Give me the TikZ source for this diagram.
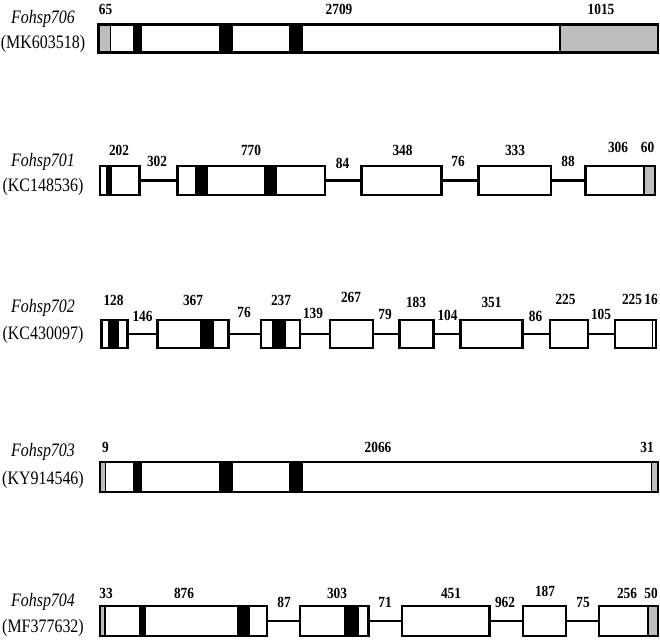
\documentclass[tikz,border=0pt]{standalone}
\usepackage{fontspec}
\usepackage{graphicx}
\setmainfont{Liberation Serif}
\definecolor{exgray}{RGB}{190,190,190}
\tikzset{
 exon/.style={draw=black, line width=2.5pt, inner sep=0pt, outer sep=0pt},
 intron/.style={line width=2.1pt},
 num/.style={font=\fontsize{15.5}{15.5}\selectfont\bfseries, anchor=base, inner sep=0pt},
 gname/.style={font=\fontsize{19}{19}\selectfont\itshape, anchor=base, inner sep=0pt},
 acc/.style={font=\fontsize{19}{19}\selectfont, anchor=base, inner sep=0pt},
 sepline/.style={line width=1.4pt},
}
% name, x1, x2, y1, y2
\newcommand\exon[5]{%
 \pgfmathsetmacro\exw{#3-#2}\pgfmathsetmacro\exh{#5-#4}%
 \pgfmathsetmacro\exx{(#2+#3)/2}\pgfmathsetmacro\exy{(#4+#5)/2}%
 \node[exon, minimum width=\exw pt, minimum height=\exh pt] (#1) at (\exx,\exy) {};}
\newcommand\lab[4]{\node[num] (#1) at (#2,#3) {\scalebox{0.86}[1]{#4}};}
\newcommand\gnm[5]{%
 \node[gname] (#1a) at (43,#2) {\scalebox{0.84}[1]{#4}};
 \node[acc] (#1b) at (43,#3) {\scalebox{0.84}[1]{#5}};}
\newcommand\blk[4]{\fill[black] (#1,#3) rectangle (#2,#4);}
\newcommand\gry[4]{\fill[exgray] (#1,#3) rectangle (#2,#4);}
\begin{document}
\begin{tikzpicture}[x=1pt,y=-1pt]
\useasboundingbox (0,0) rectangle (660,639);
% ================= Row 1: Fohsp706 =================
\fill[white] (98.5,24.5) rectangle (658,52.5);
\gry{98.5}{110.5}{24.5}{52.5}
\gry{560}{658}{24.5}{52.5}
\blk{132.5}{141.5}{23.5}{53.5}
\blk{219}{233}{23.5}{53.5}
\blk{289}{303}{23.5}{53.5}
\exon{r1e1}{98.5}{658}{24.5}{52.5}
\draw[sepline] (110.5,24.5) -- (110.5,52.5);
\draw[sepline] (560,24.5) -- (560,52.5);
\gnm{n1}{24}{49}{Fohsp706}{(MK603518)}
\lab{l1a}{105.5}{15}{65}
\lab{l1b}{339}{15}{2709}
\lab{l1c}{601}{15}{1015}
% ================= Row 2: Fohsp701 =================
\fill[white] (100,166) rectangle (139.5,195);
\fill[white] (177.5,166) rectangle (325,195);
\fill[white] (361.5,166) rectangle (441.5,195);
\fill[white] (478.5,166) rectangle (551,195);
\fill[white] (585.5,166) rectangle (655,195);
\blk{105.5}{111.5}{166}{195}
\blk{194.5}{207.5}{166}{195}
\blk{263.5}{276.5}{166}{195}
\gry{644}{655}{166}{195}
\exon{r2e1}{100}{139.5}{166}{195}
\exon{r2e2}{177.5}{325}{166}{195}
\exon{r2e3}{361.5}{441.5}{166}{195}
\exon{r2e4}{478.5}{551}{166}{195}
\exon{r2e5}{585.5}{655}{166}{195}
\draw[sepline] (644,166) -- (644,195);
\draw[intron] (r2e1.east) -- (r2e2.west);
\draw[intron] (r2e2.east) -- (r2e3.west);
\draw[intron] (r2e3.east) -- (r2e4.west);
\draw[intron] (r2e4.east) -- (r2e5.west);
\gnm{n2}{166}{191}{Fohsp701}{(KC148536)}
\lab{l2a}{119}{155}{202}
\lab{l2b}{157}{167}{302}
\lab{l2c}{251}{156}{770}
\lab{l2d}{342.5}{168}{84}
\lab{l2e}{402.5}{155}{348}
\lab{l2f}{458}{167}{76}
\lab{l2g}{515}{155}{333}
\lab{l2h}{568}{167}{88}
\lab{l2i}{618}{153}{306}
\lab{l2j}{647.5}{153}{60}
% ================= Row 3: Fohsp702 =================
\fill[white] (101.5,320) rectangle (127.5,348);
\fill[white] (157.5,320) rectangle (228.5,348);
\fill[white] (261,320) rectangle (300,348);
\fill[white] (330,320) rectangle (373,348);
\fill[white] (399.5,320) rectangle (433.5,348);
\fill[white] (460.5,320) rectangle (522.5,348);
\fill[white] (550,320) rectangle (588,348);
\fill[white] (615,320) rectangle (656,348);
\blk{107.5}{118.5}{320}{348}
\blk{199.5}{214}{319}{349}
\blk{271.5}{286}{319}{349}
\exon{r3e1}{101.5}{127.5}{320}{348}
\exon{r3e2}{157.5}{228.5}{320}{348}
\exon{r3e3}{261}{300}{320}{348}
\exon{r3e4}{330}{373}{320}{348}
\exon{r3e5}{399.5}{433.5}{320}{348}
\exon{r3e6}{460.5}{522.5}{320}{348}
\exon{r3e7}{550}{588}{320}{348}
\exon{r3e8}{615}{656}{320}{348}
\draw[sepline] (652.5,320) -- (652.5,348);
\draw[intron] (r3e1.east) -- (r3e2.west);
\draw[intron] (r3e2.east) -- (r3e3.west);
\draw[intron] (r3e3.east) -- (r3e4.west);
\draw[intron] (r3e4.east) -- (r3e5.west);
\draw[intron] (r3e5.east) -- (r3e6.west);
\draw[intron] (r3e6.east) -- (r3e7.west);
\draw[intron] (r3e7.east) -- (r3e8.west);
\gnm{n3}{312}{339}{Fohsp702}{(KC430097)}
\lab{l3a}{113.5}{305}{128}
\lab{l3b}{142.5}{321}{146}
\lab{l3c}{193}{305}{367}
\lab{l3d}{244}{317}{76}
\lab{l3e}{281}{305}{237}
\lab{l3f}{313}{318}{139}
\lab{l3g}{351}{302}{267}
\lab{l3h}{385}{319}{79}
\lab{l3i}{416}{307}{183}
\lab{l3j}{447.5}{320}{104}
\lab{l3k}{491.5}{307}{351}
\lab{l3l}{535.5}{321}{86}
\lab{l3m}{565.5}{304}{225}
\lab{l3n}{601}{319}{105}
\lab{l3o}{632}{304}{225}
\lab{l3p}{651}{304}{16}
% ================= Row 4: Fohsp703 =================
\fill[white] (100,462) rectangle (658,492);
\gry{100}{105.5}{462}{492}
\gry{651.5}{658}{462}{492}
\blk{132.5}{141.5}{462}{492}
\blk{219}{232.5}{461}{493}
\blk{288.5}{303}{461}{493}
\exon{r4e1}{100}{658}{462}{492}
\draw[sepline] (105.5,462) -- (105.5,492);
\draw[sepline] (651.5,462) -- (651.5,492);
\gnm{n4}{456}{484}{Fohsp703}{(KY914546)}
\lab{l4a}{105.5}{452}{9}
\lab{l4b}{378}{452}{2066}
\lab{l4c}{647}{452}{31}
% ================= Row 5: Fohsp704 =================
\fill[white] (100,606) rectangle (267,636);
\fill[white] (300,606) rectangle (368.5,636);
\fill[white] (402,606) rectangle (489.5,636);
\fill[white] (523,606) rectangle (566,636);
\fill[white] (599,606) rectangle (658,636);
\gry{100}{105}{606}{636}
\gry{648}{658}{606}{636}
\blk{138.5}{146}{606}{636}
\blk{237}{250}{606}{636}
\blk{344}{358.5}{606}{636}
\exon{r5e1}{100}{267}{606}{636}
\exon{r5e2}{300}{368.5}{606}{636}
\exon{r5e3}{402}{489.5}{606}{636}
\exon{r5e4}{523}{566}{606}{636}
\exon{r5e5}{599}{658}{606}{636}
\draw[sepline] (105,606) -- (105,636);
\draw[sepline] (648,606) -- (648,636);
\draw[intron] (r5e1.east) -- (r5e2.west);
\draw[intron] (r5e2.east) -- (r5e3.west);
\draw[intron] (r5e3.east) -- (r5e4.west);
\draw[intron] (r5e4.east) -- (r5e5.west);
\gnm{n5}{606}{632}{Fohsp704}{(MF377632)}
\lab{l5a}{106}{598}{33}
\lab{l5b}{184}{598}{876}
\lab{l5c}{284}{607}{87}
\lab{l5d}{337}{598}{303}
\lab{l5e}{385}{607}{71}
\lab{l5f}{451}{598}{451}
\lab{l5g}{505}{607}{962}
\lab{l5h}{545}{596}{187}
\lab{l5i}{583}{607}{75}
\lab{l5j}{627}{598}{256}
\lab{l5k}{651}{598}{50}
\end{tikzpicture}
\end{document}
